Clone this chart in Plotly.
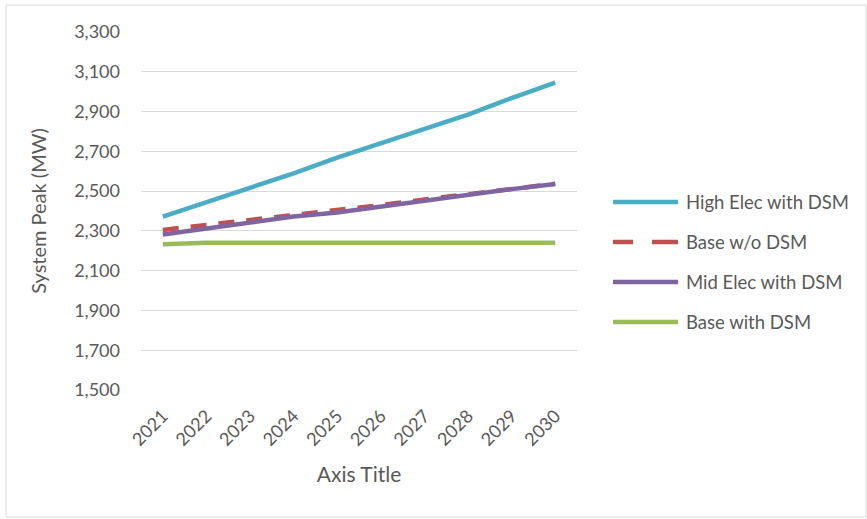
import plotly.graph_objects as go

years = ["2021", "2022", "2023", "2024", "2025", "2026", "2027", "2028", "2029", "2030"]
high_elec_dsm = [2372, 2444, 2520, 2589, 2668, 2740, 2815, 2885, 2968, 3045]
base_wo_dsm = [2305, 2330, 2352, 2380, 2405, 2430, 2458, 2486, 2512, 2537]
mid_elec_dsm = [2282, 2313, 2345, 2372, 2393, 2423, 2453, 2482, 2510, 2536]
base_dsm = [2233, 2240, 2240, 2240, 2240, 2240, 2240, 2240, 2240, 2240]
y_ticks = list(range(1500, 3301, 200))

series = [
    ("High Elec with DSM", high_elec_dsm, "#4bacc6", "solid"),
    ("Base w/o DSM", base_wo_dsm, "#c0504d", "16px,12px"),
    ("Mid Elec with DSM", mid_elec_dsm, "#8064a2", "solid"),
    ("Base with DSM", base_dsm, "#9bbb59", "solid"),
]

W, H = 867, 519
L, R, T, B = 141, 290, 32, 129
pw, ph = W - L - R, H - T - B


def px_x(x):
    return (x - L) / pw


def px_y(y):
    return 1 - (y - T) / ph


fig = go.Figure()
order = [0, 3, 1, 2]
for i in order:
    name, vals, color, dash = series[i]
    fig.add_trace(go.Scatter(
        x=years, y=vals, name=name, mode="lines",
        line=dict(color=color, width=4.5, dash=dash),
        showlegend=False,
    ))

# custom legend (longer symbol lines like the reference)
font_family = "Lato, Open Sans, sans-serif"
text_col = "#595959"
for k, (name, vals, color, dash) in enumerate(series):
    yc = 202 + 40 * k
    if dash == "solid":
        fig.add_shape(type="line", xref="paper", yref="paper",
                      x0=px_x(613), x1=px_x(678), y0=px_y(yc), y1=px_y(yc),
                      line=dict(color=color, width=4.5))
    else:
        for a, b in [(613, 633), (652, 678)]:
            fig.add_shape(type="line", xref="paper", yref="paper",
                          x0=px_x(a), x1=px_x(b), y0=px_y(yc), y1=px_y(yc),
                          line=dict(color=color, width=4.5))
    fig.add_annotation(xref="paper", yref="paper", x=px_x(684), y=px_y(yc),
                       xanchor="left", yanchor="middle", showarrow=False,
                       text=name, font=dict(size=18.5, color=text_col, family=font_family))

fig.add_shape(type="rect", xref="paper", yref="paper",
              x0=px_x(6), x1=px_x(866), y0=px_y(517), y1=px_y(5),
              line=dict(color="#d9d9d9", width=1), fillcolor="rgba(0,0,0,0)", layer="below")

fig.update_layout(
    width=W, height=H,
    margin=dict(l=L, r=R, t=T, b=B, pad=0),
    paper_bgcolor="white", plot_bgcolor="white",
    font=dict(family=font_family, color=text_col, size=18),
    showlegend=False,
    xaxis=dict(type="category", range=[-0.5, 9.5], tickangle=-45,
               showgrid=False, showline=False, ticks="",
               ticklabelstandoff=11,
               tickfont=dict(size=18, color=text_col),
               title=dict(text="Axis Title", font=dict(size=21, color=text_col), standoff=18)),
    yaxis=dict(range=[1500, 3300], tickvals=y_ticks, tickformat=",d",
               showgrid=True, gridcolor="#d9d9d9", gridwidth=1, zeroline=False,
               showline=False, ticks="", ticklen=0,
               ticklabelstandoff=20,
               tickfont=dict(size=18, color=text_col),
               title=dict(text="System Peak (MW)", font=dict(size=20, color=text_col), standoff=22)),
)

fig.write_html("out.html")
